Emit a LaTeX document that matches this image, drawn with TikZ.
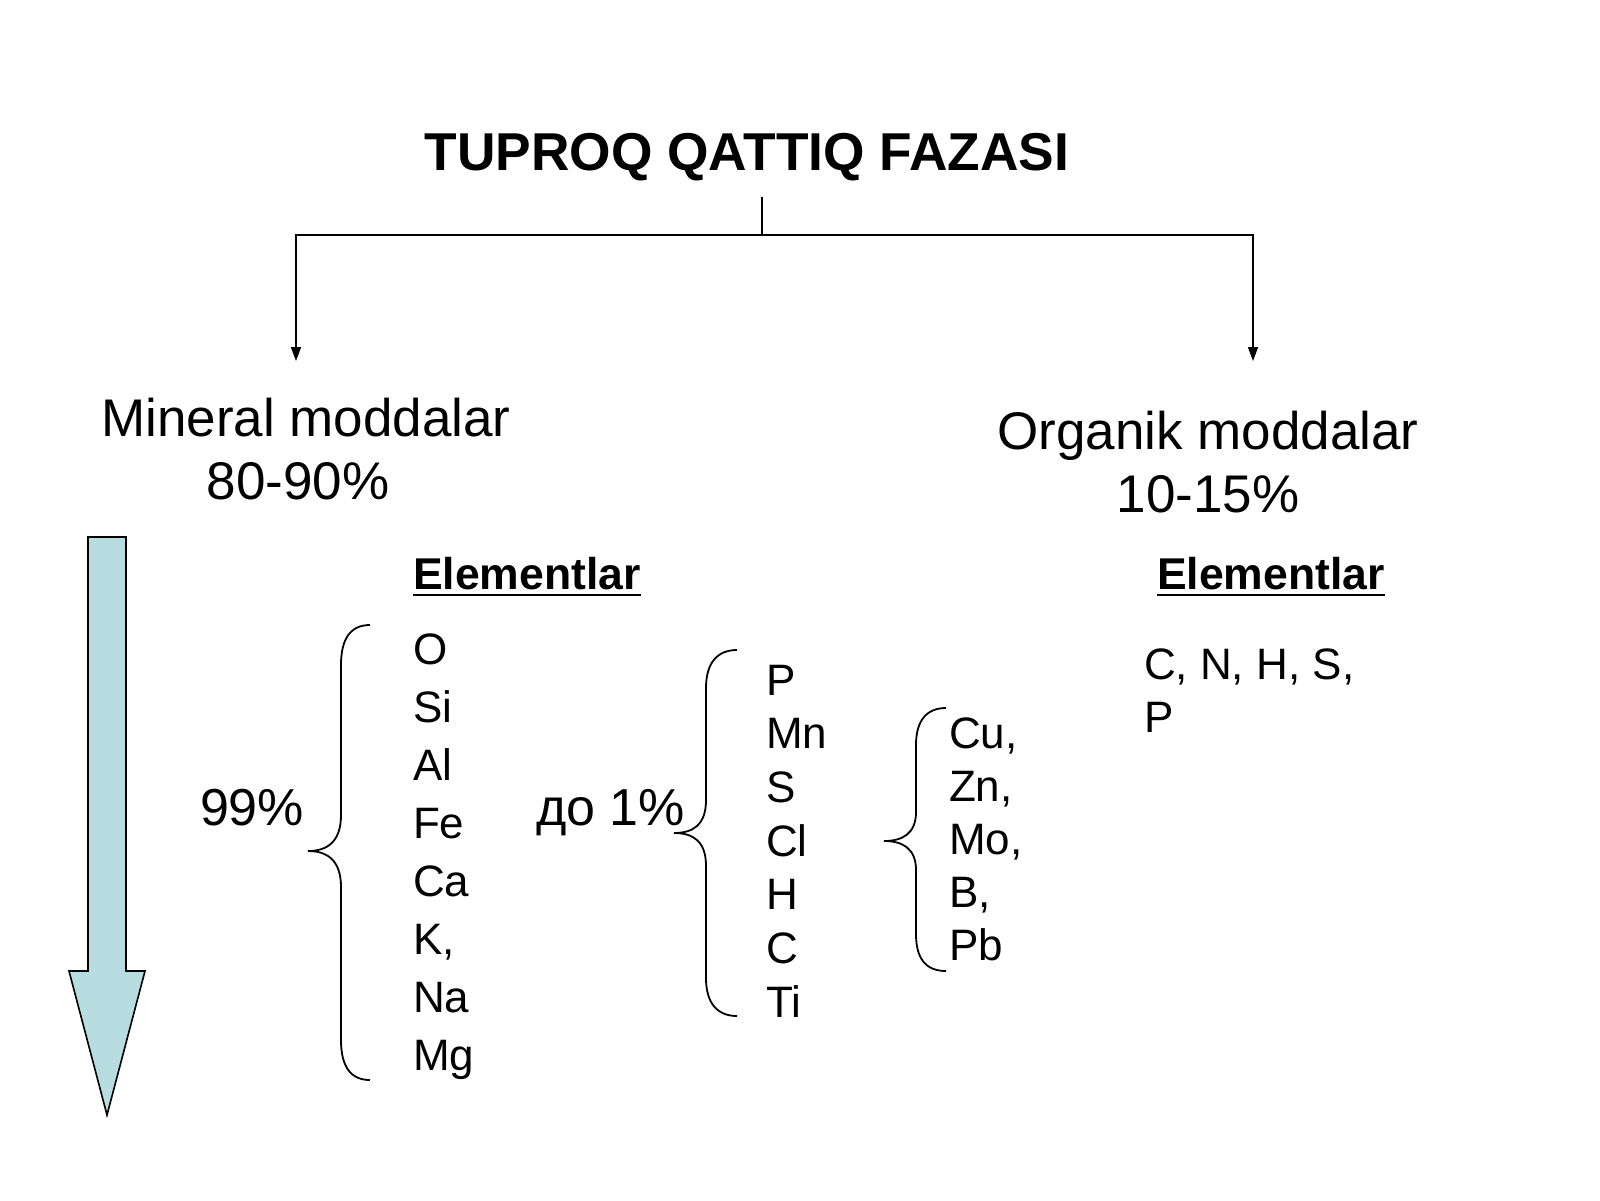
\documentclass[tikz,border=0pt]{standalone}
\usepackage{fontspec}
\setmainfont{Liberation Sans}
\usetikzlibrary{arrows.meta}
\definecolor{arrowfill}{RGB}{184,221,224}
\tikzset{
  txt/.style={inner sep=0pt, outer sep=0pt, anchor=base west},
  ctxt/.style={inner sep=0pt, outer sep=0pt, anchor=base},
  conn/.style={line width=1.6pt, draw=black},
  tipconn/.style={conn, -{Triangle[length=14pt,width=10pt]}},
  bracepath/.style={line width=1.8pt, draw=black},
  titlefont/.style={font=\fontsize{53.3}{63}\selectfont\bfseries},
  headfont/.style={font=\fontsize{53}{63}\selectfont},
  elfont/.style={font=\fontsize{44}{52}\selectfont},
  elhead/.style={font=\fontsize{44.5}{52}\selectfont\bfseries},
  pctfont/.style={font=\fontsize{52}{62}\selectfont},
}
\begin{document}
\begin{tikzpicture}[x=1pt,y=-1pt]
\useasboundingbox[fill=white] (0,0) rectangle (1600,1200);

% title
\node[ctxt, titlefont] (title) at (747,170) {TUPROQ QATTIQ FAZASI};

% tree connector
\coordinate (stem) at (762,197);
\coordinate (split) at (762,235);
\coordinate (lcorner) at (296,235);
\coordinate (rcorner) at (1253,235);
\coordinate (ltip) at (296,361);
\coordinate (rtip) at (1253,361);
\draw[conn] (stem) -- (split);
\draw[tipconn] (split) -- (lcorner) -- (ltip);
\draw[tipconn] (split) -- (rcorner) -- (rtip);

% headings
\node[ctxt, headfont] (min1) at (306,436) {Mineral moddalar};
\node[ctxt, headfont] (min2) at (298,499) {80-90\%};
\node[ctxt, headfont] (org1) at (1208,449) {Organik moddalar};
\node[ctxt, headfont] (org2) at (1208,512) {10-15\%};

% Elementlar headings
\node[txt, elhead] (elL) at (413,589) {Elementlar};
\node[txt, elhead] (elR) at (1157,589) {Elementlar};
\draw[line width=2.6pt] ([yshift=-6pt]elL.base west) -- ([yshift=-6pt]elL.base east);
\draw[line width=2.6pt] ([yshift=-6pt]elR.base west) -- ([yshift=-6pt]elR.base east);

% big arrow
\draw[line width=1.6pt, fill=arrowfill, line join=miter]
  (88,537) -- (126,537) -- (126,971) -- (145,971) -- (107,1115) -- (69,971) -- (88,971) -- cycle;

% percentages
\node[txt, pctfont] (p99) at (200,825) {99\%};
\node[txt, pctfont] (p1) at (536,825) {до 1\%};

% left column
\foreach \e [count=\i from 0] in {O,Si,Al,Fe,Ca,{K,},Na,Mg}
  \node[txt, elfont] (l\i) at (413,664+58*\i) {\e};

% middle column
\foreach \e [count=\i from 0] in {P,Mn,S,Cl,H,C,Ti}
  \node[txt, elfont] (m\i) at (766,695+53.7*\i) {\e};

% right small column
\foreach \e [count=\i from 0] in {{Cu,},{Zn,},{Mo,},{B,},Pb}
  \node[txt, elfont] (r\i) at (949,748+53*\i) {\e};

% organic elements
\node[txt, elfont] (o1) at (1144,679) {C, N, H, S,};
\node[txt, elfont] (o2) at (1144,732) {P};

% braces
\draw[bracepath] (370,625) .. controls (351,625) and (341,638) .. (341,665)
  -- (341,815) .. controls (341,842) and (327,851) .. (308,851)
  .. controls (327,851) and (341,860) .. (341,887)
  -- (341,1040) .. controls (341,1067) and (351,1080) .. (370,1080);

\draw[bracepath] (737,650) .. controls (718,650) and (706,662) .. (706,688)
  -- (706,800) .. controls (706,825) and (693,833) .. (674,833)
  .. controls (693,833) and (706,841) .. (706,866)
  -- (706,978) .. controls (706,1004) and (718,1016) .. (737,1016);

\draw[bracepath] (946,708) .. controls (927,708) and (916,720) .. (916,745)
  -- (916,812) .. controls (916,834) and (902,841) .. (884,841)
  .. controls (902,841) and (916,848) .. (916,870)
  -- (916,934) .. controls (916,960) and (927,971) .. (946,971);
\end{tikzpicture}
\end{document}
